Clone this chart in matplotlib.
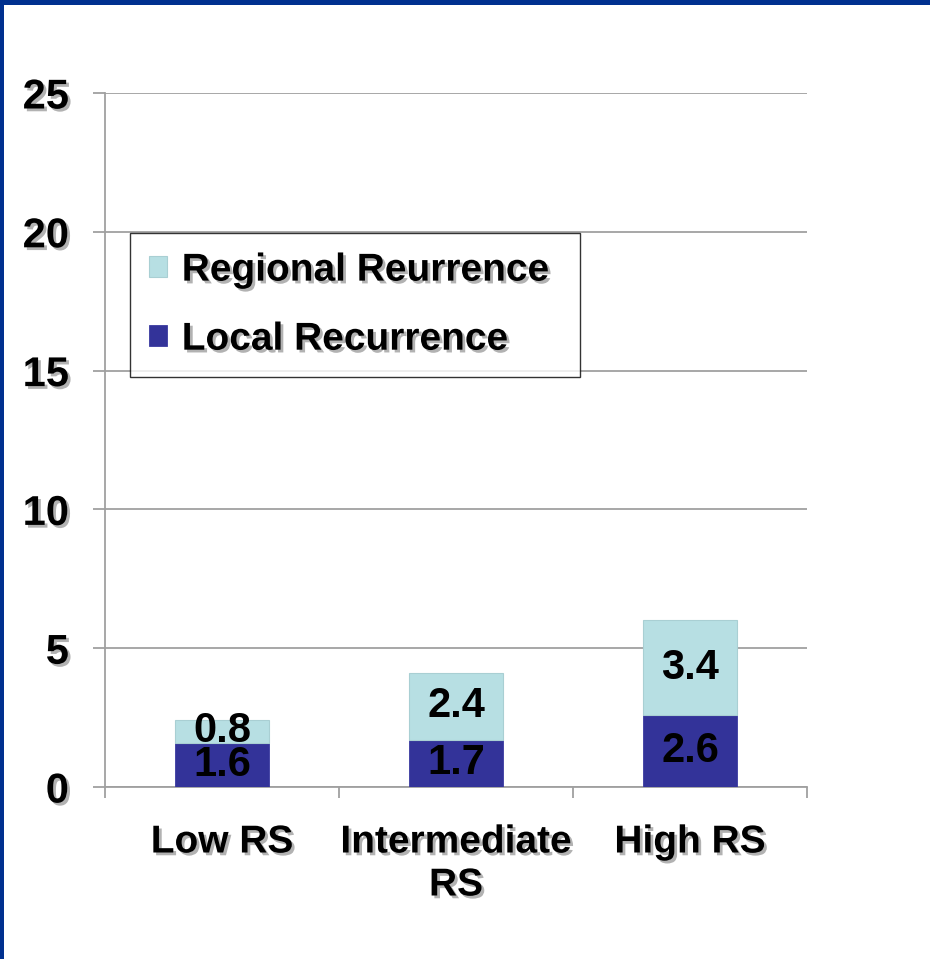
import matplotlib
matplotlib.use("Agg")
import matplotlib.pyplot as plt
import matplotlib.patheffects as pe
from matplotlib.patches import Rectangle
import numpy as np

categories = ["Low RS", "Intermediate\nRS", "High RS"]
local = [1.6, 1.7, 2.6]
regional = [0.8, 2.4, 3.4]
yticks = [0, 5, 10, 15, 20, 25]

light_blue = "#B7DFE3"
dark_blue = "#333399"
grid_gray = "#A0A0A0"
frame_blue = "#00308F"

plt.rcParams["font.family"] = ["Liberation Sans", "DejaVu Sans"]

shadow = [pe.withSimplePatchShadow(offset=(2, -2), shadow_rgbFace="#555555", alpha=0.45)]

fig = plt.figure(figsize=(9.3, 9.59), dpi=100)
fig.patch.set_facecolor("white")

# slide frame
fig.add_artist(Rectangle((0, 1 - 5 / 959), 1, 5 / 959, transform=fig.transFigure,
                         facecolor=frame_blue, edgecolor="none"))
fig.add_artist(Rectangle((0, 0), 4 / 930, 1, transform=fig.transFigure,
                         facecolor=frame_blue, edgecolor="none"))

ax = fig.add_axes([105 / 930, 1 - 787 / 959, 702 / 930, 694 / 959])

x = np.arange(len(categories))
w = 0.40
b1 = ax.bar(x, local, w, color=dark_blue, edgecolor="#3a3aa0", linewidth=0.6,
            label="Local Recurrence", zorder=3)
b2 = ax.bar(x, regional, w, bottom=local, color=light_blue, edgecolor="#a9cfd3",
            linewidth=0.8, label="Regional Reurrence", zorder=3)

for i in range(len(categories)):
    ax.text(x[i], local[i] / 2, f"{local[i]:.1f}", ha="center", va="center",
            fontsize=30, fontweight="bold", color="black", zorder=4)
    ax.text(x[i], local[i] + regional[i] / 2, f"{regional[i]:.1f}", ha="center",
            va="center", fontsize=30, fontweight="bold", color="black", zorder=4)

ax.set_xlim(-0.5, 2.5)
ax.set_ylim(0, 25)
ax.set_yticks(yticks)
ax.yaxis.grid(True, color=grid_gray, linewidth=1.3, zorder=0)
ax.set_axisbelow(True)

for s in ["top", "right"]:
    ax.spines[s].set_visible(False)
for s in ["left", "bottom"]:
    ax.spines[s].set_color(grid_gray)
    ax.spines[s].set_linewidth(1.3)

ax.set_xticks(x)
ax.set_xticklabels(categories, fontsize=28, fontweight="bold", linespacing=1.25)
ax.set_xticks([-0.5, 0.5, 1.5, 2.5], minor=True)
ax.tick_params(axis="x", which="major", length=0, pad=27)
ax.tick_params(axis="x", which="minor", length=8, width=1.3, color=grid_gray)
ax.tick_params(axis="y", length=9, width=1.3, color=grid_gray, pad=17, labelsize=30)
for lab in ax.get_yticklabels():
    lab.set_fontweight("bold")
    lab.set_path_effects(shadow)
for lab in ax.get_xticklabels():
    lab.set_path_effects(shadow)

leg = ax.legend(handles=[b2, b1], loc="upper left",
                bbox_to_anchor=(25 / 702, 0.598, 450 / 702, 0.2), mode="expand",
                fontsize=28, frameon=True, fancybox=False, edgecolor="black",
                handlelength=0.45, handleheight=0.45, handletextpad=0.38,
                labelspacing=0.85, borderpad=0.5, borderaxespad=0)
leg.get_frame().set_linewidth(1.0)
for t in leg.get_texts():
    t.set_fontweight("bold")
    t.set_path_effects(shadow)

fig.savefig("out.png", dpi=100, facecolor="white")
